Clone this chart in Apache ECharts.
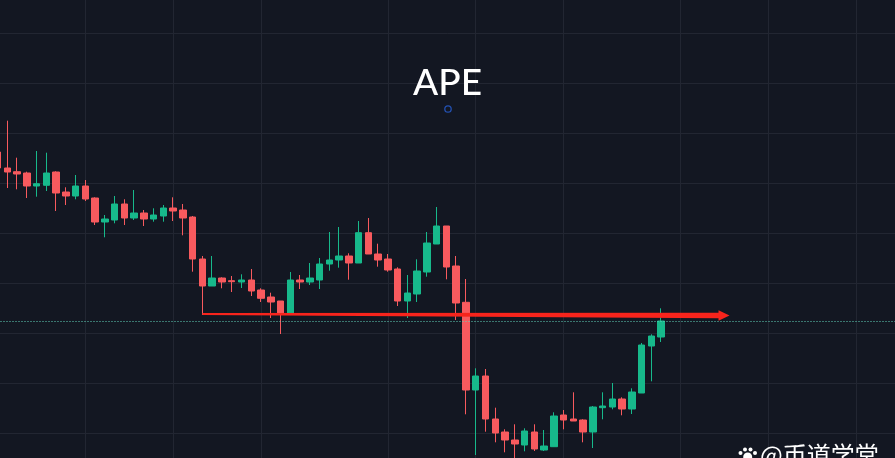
<!DOCTYPE html>
<html><head><meta charset="utf-8">
<style>html,body{margin:0;padding:0;background:#131722;overflow:hidden}#c{width:895px;height:458px}</style>
<script src="https://cdn.jsdelivr.net/npm/echarts@6/dist/echarts.min.js"></script>
</head><body><div id="c"></div>
<script>
const titleText = 'APE';
const watermark = '@币道学堂';
const opens = [331,315,311.3,310,297,297.7,311,291,287,297,285,261,263,279,265,270,264,267,275,273,266,224,197,205,202.3,201,203,193,186,182,169.7,203,201,203,219,223,227,220,250.3,229,224,214,182,189,211,239,257,217,180.7,93,107,64,51,43,38,51,33,36.3,68,64,63,51,75.3,76,84,74,90,137,146];
const closes = [315,311,309,297,299.3,310,290,287,297,284,261,264,279,265,270,264,268,275,272,265,224,197,205,201,201.3,203,192,184.7,181,169,203,201,205,219,223,227,220,250.3,229,223,213,182,190,212,240,257,216,180,93,107,64,50,43,39,52,34,37,67,63,62,51,76,77,84,74,91,138,147,162];
const highs = [334,362.3,325.3,311.3,332,330.3,311.7,295.7,308,303,285.7,268,287,283.7,293,273,274.7,278,285.7,279,267,227,227,205.7,207,208.7,214,194.7,190.3,182,211,208,220,225,251,256,229.7,262,265,239.3,229,215.7,208,223.7,251,276,257,227,204,114.7,114,75.3,53.7,58.7,54.7,58.7,53,70.7,73,90.7,63.7,77,90.7,100,85.7,94.7,140,148.7,174.7];
const lows = [311,295,293.7,285,286.3,292,272,278,283.7,282,258,245.7,259.7,258,263,257,261.3,261.3,262,247.7,211.3,168,197,194.7,191,195,187,181,165,149,169,194,198,194,212.3,215.3,203.3,220,229,216.3,211.3,177,165,181,206.3,239,203.7,163,68.7,28,51.3,40.7,30.7,21,31.7,32,32,36,53.7,62,40.7,35,63.7,73.7,67.7,69,90,101.7,141];
const slotCount = 93;
const gridTicks = [9,18,27,40,49,58,70,79,88];
const priceLine = 162;
const arrowFrom = [21,169];
const arrowTo = [75,167.5];

const categories = Array.from({length:slotCount},(_,i)=>String(i));
const candles = opens.map((o,i)=>[o,closes[i],lows[i],highs[i]]);
const red='#f85a5e', green='#17b98b', gridCol='#222632';
const chart = echarts.init(document.getElementById('c'),null,{renderer:'canvas'});
chart.setOption({
  animation:false,
  backgroundColor:'#131722',
  title:{text:titleText,left:'center',top:60,textStyle:{color:'#ffffff',fontSize:37,fontWeight:500,fontFamily:'Lato'}},
  grid:{left:-2.5,top:-17,width:897.92,height:500,containLabel:false,outerBoundsMode:'none'},
  xAxis:{type:'category',data:categories,boundaryGap:false,
    axisLine:{show:false},axisTick:{show:false},axisLabel:{show:false},
    splitLine:{show:true,interval:(i)=>gridTicks.includes(i),lineStyle:{color:gridCol,width:1}}},
  yAxis:{type:'value',min:0,max:500,interval:50,
    axisLine:{show:false},axisTick:{show:false},axisLabel:{show:false},
    splitLine:{show:true,lineStyle:{color:gridCol,width:1}}},
  series:[
    {type:'candlestick',data:candles,barWidth:7,
     itemStyle:{color:green,color0:red,borderColor:green,borderColor0:red,borderWidth:1},
     markLine:{silent:true,symbol:'none',label:{show:false},
       lineStyle:{color:'#63d6bd',type:[1,2],width:1},data:[{yAxis:priceLine}]}},
    {type:'custom',coordinateSystem:'cartesian2d',clip:false,z:5,
     data:[[arrowFrom[0],arrowFrom[1],arrowTo[0],arrowTo[1]]],
     encode:{x:[0,2],y:[1,3]},
     renderItem:(p,api)=>{
       const a=api.coord([api.value(0),api.value(1)]), b=api.coord([api.value(2),api.value(3)]);
       const yAt=x=>a[1]+(b[1]-a[1])*(x-a[0])/(b[0]-a[0]);
       const hx=b[0]-11, sx=a[0];
       return {type:'polygon',shape:{points:[
         [sx,yAt(sx)-0.9],[hx,yAt(hx)-2.8],[hx,yAt(hx)-5.2],[b[0],b[1]],
         [hx,yAt(hx)+5.2],[hx,yAt(hx)+2.8],[sx,yAt(sx)+0.9]]},
         style:{fill:'#f8241c'}};
     }}
  ],
  graphic:[
    {type:'circle',shape:{cx:448,cy:109,r:3.2},style:{fill:'transparent',stroke:'#2350b0',lineWidth:1.3},z:10},
    {type:'text',x:760,y:443,z:10,style:{text:watermark,fill:'#ffffff',fontSize:24,fontFamily:'"Noto Sans CJK SC"',textVerticalAlign:'top'}},
    {type:'circle',shape:{cx:740.5,cy:453,r:2},style:{fill:'#fff'},z:10},
    {type:'circle',shape:{cx:745,cy:449.5,r:2},style:{fill:'#fff'},z:10},
    {type:'circle',shape:{cx:750.5,cy:449.5,r:2},style:{fill:'#fff'},z:10},
    {type:'circle',shape:{cx:755,cy:453,r:2},style:{fill:'#fff'},z:10},
    {type:'circle',shape:{cx:747.7,cy:457,r:4.5},style:{fill:'#fff'},z:10}
  ]
});
</script></body></html>
